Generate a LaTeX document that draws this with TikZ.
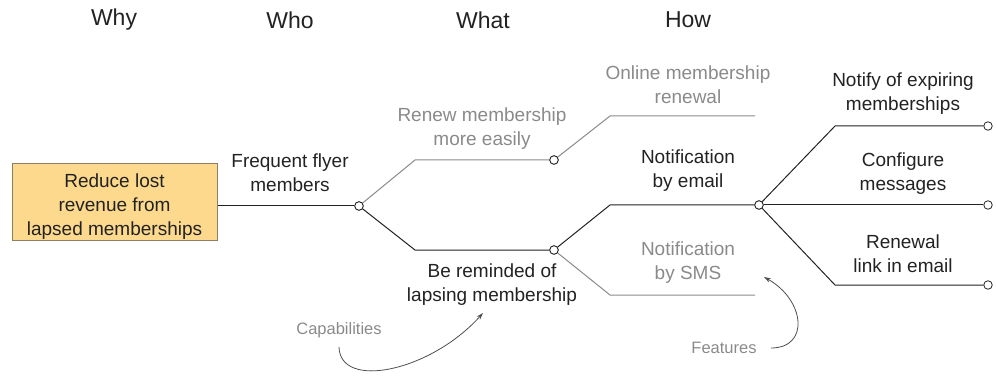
\documentclass[tikz,border=0pt]{standalone}
\usepackage{fontspec}
\setmainfont{Liberation Sans}
\usetikzlibrary{arrows.meta}
\definecolor{dk}{HTML}{222222}
\definecolor{lt}{HTML}{8A8A8A}
\definecolor{boxfill}{HTML}{FDD98D}
\definecolor{boxline}{HTML}{8C7F66}
\tikzset{
  lbl/.style={align=center,font=\fontsize{19}{24}\selectfont,text=dk,inner sep=0pt},
  glbl/.style={lbl,text=lt},
  hd/.style={font=\fontsize{23}{28}\selectfont,text=dk,inner sep=0pt},
  note/.style={font=\fontsize{16.5}{19}\selectfont,text=lt,inner sep=0pt},
  dot/.style={circle,draw=dk,fill=white,line width=0.8pt,inner sep=0pt,minimum size=8.5pt},
  bl/.style={draw=dk,line width=1pt},
  gl/.style={draw=lt,line width=1pt},
  curv/.style={draw=dk!80,line width=0.8pt,-{Stealth[length=7pt,width=4.5pt]}},
}
\begin{document}
\begin{tikzpicture}[x=1pt,y=-1pt]
\useasboundingbox (0,0) rectangle (997,377);
% headings
\node[hd] (hwhy) at (114,20) {Why};
\node[hd] (hwho) at (290,20) {Who};
\node[hd] (hwhat) at (483,20) {What};
\node[hd] (hhow) at (688,20) {How};
% goal box
\node[draw=boxline,fill=boxfill,line width=1pt,minimum width=205pt,minimum height=77pt,inner sep=0pt] (goal) at (114.5,202.5) {};
\node[lbl] (goaltxt) at (114.5,207) {Reduce lost\\revenue from\\lapsed memberships};
% dots
\node[dot] (d1) at (359,206) {};
\node[dot] (d2) at (554,160) {};
\node[dot] (d3) at (554,250) {};
\node[dot] (d4) at (759,205) {};
\node[dot] (e1) at (988,126) {};
\node[dot] (e2) at (988,205) {};
\node[dot] (e3) at (988,285) {};
% bend coordinates
\coordinate (b1) at (415,160);
\coordinate (b2) at (415,250);
\coordinate (b3) at (610,116);
\coordinate (t3) at (755,116);
\coordinate (b4) at (610,205);
\coordinate (b5) at (610,295);
\coordinate (t5) at (755,295);
\coordinate (b6) at (835,126);
\coordinate (b7) at (835,285);
% connectors
\draw[bl] (d1 -| goal.east) -- (d1);
\draw[gl] (d1) -- (b1) -- (d2);
\draw[bl] (d1) -- (b2) -- (d3);
\draw[gl] (d2) -- (b3) -- (t3);
\draw[bl] (d3) -- (b4) -- (d4);
\draw[gl] (d3) -- (b5) -- (t5);
\draw[bl] (d4) -- (b6) -- (e1);
\draw[bl] (d4) -- (e2);
\draw[bl] (d4) -- (b7) -- (e3);
% redraw dots on top
\node[dot] at (d1) {};
\node[dot] at (d2) {};
\node[dot] at (d3) {};
\node[dot] at (d4) {};
% labels
\node[lbl] (who) at (290,173) {Frequent flyer\\members};
\node[glbl] (w1) at (482,129) {Renew membership\\more easily};
\node[lbl] (w2) at (492,285) {Be reminded of\\lapsing membership};
\node[glbl] (h1) at (688,85) {Online membership\\renewal};
\node[lbl] (h2) at (688,171) {Notification\\by email};
\node[glbl] (h3) at (688,263) {Notification\\by SMS};
\node[lbl] (f1) at (903,94) {Notify of expiring\\memberships};
\node[lbl] (f2) at (903,174) {Configure\\messages};
\node[lbl] (f3) at (903,254) {Renewal\\link in email};
% notes
\node[note] (cap) at (339,330) {Capabilities};
\node[note] (feat) at (724,348) {Features};
\coordinate (cs) at (339,347);
\coordinate (ce) at (483,313);
\coordinate (fs) at (771,348);
\coordinate (fe) at (764,277);
\draw[curv] (cs) .. controls (340,390) and (430,372) .. (ce);
\draw[curv] (fs) .. controls (810,348) and (805,300) .. (fe);
\end{tikzpicture}
\end{document}
